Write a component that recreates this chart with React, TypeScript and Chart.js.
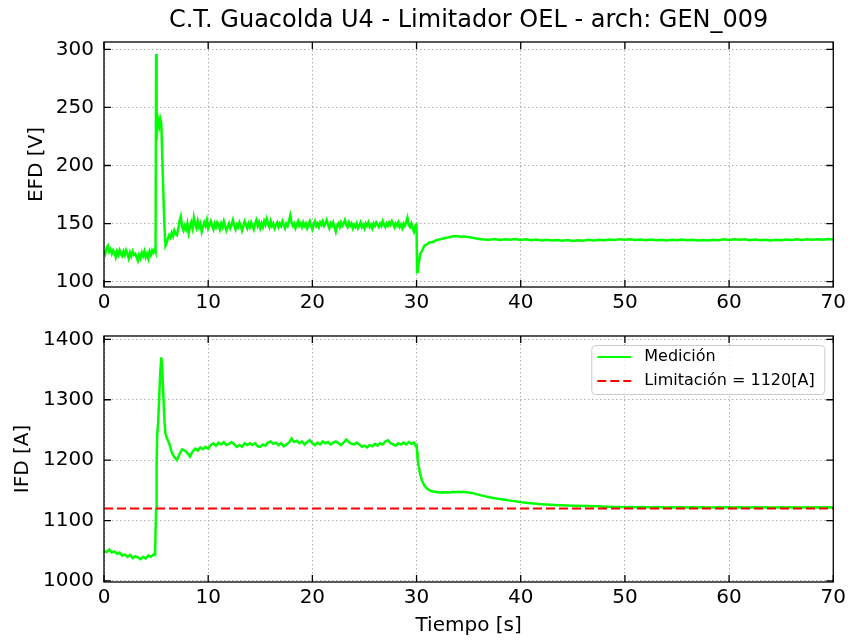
import React, { useEffect, useRef } from 'react';
import { Chart, registerables } from 'chart.js';
Chart.register(...registerables);

const TITLE = 'C.T. Guacolda U4 - Limitador OEL - arch: GEN_009';
const X_LABEL = 'Tiempo [s]';
const EFD_LABEL = 'EFD [V]';
const IFD_LABEL = 'IFD [A]';
const SERIES_NAME = 'Medición';
const LIMIT_NAME = 'Limitación = 1120[A]';

// ---- Top subplot: EFD [V] ----
const efdTime = [
  0, 0.125, 0.25, 0.375, 0.5, 0.625, 0.75, 0.875,
  1, 1.125, 1.25, 1.375, 1.5, 1.625, 1.75, 1.875,
  2, 2.125, 2.25, 2.375, 2.5, 2.625, 2.75, 2.875,
  3, 3.125, 3.25, 3.375, 3.5, 3.625, 3.75, 3.875,
  4, 4.125, 4.25, 4.375, 4.5, 4.625, 4.75, 4.875,
  4.95, 5, 5.05, 5.1, 5.2, 5.3, 5.4, 5.5, 5.6, 5.7, 5.8, 5.9,
  6, 6.125, 6.25, 6.375, 6.5, 6.625, 6.75, 6.875,
  7, 7.125, 7.25, 7.375, 7.5, 7.625, 7.75, 7.875,
  8, 8.125, 8.25, 8.375, 8.5, 8.625, 8.75, 8.875,
  9, 9.125, 9.25, 9.375, 9.5, 9.625, 9.75, 9.875,
  10, 10.125, 10.25, 10.375, 10.5, 10.625, 10.75, 10.875,
  11, 11.125, 11.25, 11.375, 11.5, 11.625, 11.75, 11.875,
  12, 12.125, 12.25, 12.375, 12.5, 12.625, 12.75, 12.875,
  13, 13.125, 13.25, 13.375, 13.5, 13.625, 13.75, 13.875,
  14, 14.125, 14.25, 14.375, 14.5, 14.625, 14.75, 14.875,
  15, 15.125, 15.25, 15.375, 15.5, 15.625, 15.75, 15.875,
  16, 16.125, 16.25, 16.375, 16.5, 16.625, 16.75, 16.875,
  17, 17.125, 17.25, 17.375, 17.5, 17.625, 17.75, 17.875,
  18, 18.125, 18.25, 18.375, 18.5, 18.625, 18.75, 18.875,
  19, 19.125, 19.25, 19.375, 19.5, 19.625, 19.75, 19.875,
  20, 20.125, 20.25, 20.375, 20.5, 20.625, 20.75, 20.875,
  21, 21.125, 21.25, 21.375, 21.5, 21.625, 21.75, 21.875,
  22, 22.125, 22.25, 22.375, 22.5, 22.625, 22.75, 22.875,
  23, 23.125, 23.25, 23.375, 23.5, 23.625, 23.75, 23.875,
  24, 24.125, 24.25, 24.375, 24.5, 24.625, 24.75, 24.875,
  25, 25.125, 25.25, 25.375, 25.5, 25.625, 25.75, 25.875,
  26, 26.125, 26.25, 26.375, 26.5, 26.625, 26.75, 26.875,
  27, 27.125, 27.25, 27.375, 27.5, 27.625, 27.75, 27.875,
  28, 28.125, 28.25, 28.375, 28.5, 28.625, 28.75, 28.875,
  29, 29.125, 29.25, 29.375, 29.5, 29.625, 29.75, 29.875,
  29.95, 30, 30.05, 30.1, 30.2, 30.35, 30.5, 30.75,
  31, 31.25, 31.5, 31.75, 32, 32.25, 32.5, 32.75, 33, 33.25, 33.5, 33.75, 34, 34.25, 34.5, 34.75, 35,
  35.5, 36, 36.5, 37, 37.5, 38, 38.5, 39, 39.5, 40,
  40.5, 41, 41.5, 42, 42.5, 43, 43.5, 44, 44.5, 45,
  45.5, 46, 46.5, 47, 47.5, 48, 48.5, 49, 49.5, 50,
  50.5, 51, 51.5, 52, 52.5, 53, 53.5, 54, 54.5, 55,
  55.5, 56, 56.5, 57, 57.5, 58, 58.5, 59, 59.5, 60,
  60.5, 61, 61.5, 62, 62.5, 63, 63.5, 64, 64.5, 65,
  65.5, 66, 66.5, 67, 67.5, 68, 68.5, 69, 69.5, 70,
];

const efd = [
  127, 124, 129, 131, 126, 128, 124, 127,
  125, 121, 126, 123, 127, 124, 122, 126,
  123, 127, 124, 120, 125, 122, 126, 123,
  124, 121, 118, 123, 120, 125, 122, 126,
  121, 124, 120, 126, 123, 127, 125, 128,
  126, 296, 222, 232, 239, 234, 240, 236, 205, 175, 148, 131,
  133, 137, 140, 138, 142, 139, 144, 141,
  140, 145, 152, 156, 147, 144, 148, 145,
  150, 142, 147, 151, 146, 155, 149, 146,
  152, 147, 150, 143, 147, 151, 148, 153,
  146, 149, 152, 148, 145, 150, 147, 151,
  149, 145, 150, 147, 152, 148, 144, 147,
  150, 146, 149, 153, 148, 145, 149, 147,
  151, 148, 144, 148, 152, 149, 146, 150,
  147, 151, 148, 145, 150, 153, 148, 151,
  146, 150, 147, 152, 149, 154, 150, 147,
  152, 148, 150, 146, 149, 151, 147, 150,
  148, 152, 149, 146, 150, 148, 152, 157,
  151, 148, 150, 146, 149, 152, 148, 150,
  147, 151, 148, 150, 146, 149, 152, 148,
  145, 149, 152, 148, 150, 147, 151, 149,
  152, 148, 150, 153, 149, 146, 150, 148,
  151, 147, 143, 148, 150, 147, 151, 148,
  150, 153, 149, 147, 151, 148, 150, 146,
  149, 147, 150, 146, 148, 151, 147, 149,
  146, 150, 148, 151, 147, 149, 146, 150,
  148, 151, 149, 147, 150, 148, 152, 149,
  147, 150, 148, 151, 149, 152, 150, 147,
  150, 148, 151, 147, 149, 146, 150, 148,
  151, 155, 149, 147, 150, 146, 143, 148,
  149, 147, 108, 120, 115, 124, 126, 131,
  132, 134, 134, 135, 136, 136.5, 137, 137.5, 138, 138.5, 139, 139, 139, 138.5, 139, 138.5, 138.5,
  137.5, 136.8, 136.2, 136, 136.8, 135.8, 136.4, 136, 136.7, 135.9,
  136.5, 135.6, 136.2, 135.4, 136, 135.5, 135.9, 135.2, 135.8, 135,
  135.7, 135.3, 136, 135.5, 136.1, 135.6, 136.3, 135.9, 136.6, 136.1,
  136.5, 135.8, 136.3, 135.7, 136.2, 135.6, 136, 135.5, 136.1, 135.7,
  136.2, 135.6, 136.1, 135.5, 135.9, 135.4, 136, 135.6, 136.4, 135.8,
  136.5, 136, 136.4, 135.7, 136.2, 135.6, 136.1, 135.5, 136, 135.7,
  136.3, 135.8, 136.4, 135.9, 136.5, 136, 136.6, 136.1, 136.7, 136.3,
];

// ---- Bottom subplot: IFD [A] ----
const ifdTime = [
  0, 0.25, 0.5, 0.75, 1, 1.25, 1.5, 1.75, 2, 2.25, 2.5, 2.75, 3, 3.25, 3.5, 3.75, 4, 4.25, 4.5, 4.75,
  4.9, 5, 5.05, 5.1, 5.2, 5.3, 5.4, 5.5, 5.6, 5.7, 5.8, 5.9,
  6, 6.25, 6.5, 6.75, 7, 7.25, 7.5, 7.75,
  8, 8.25, 8.5, 8.75, 9, 9.25, 9.5, 9.75,
  10, 10.25, 10.5, 10.75, 11, 11.25, 11.5, 11.75,
  12, 12.25, 12.5, 12.75, 13, 13.25, 13.5, 13.75,
  14, 14.25, 14.5, 14.75, 15, 15.25, 15.5, 15.75,
  16, 16.25, 16.5, 16.75, 17, 17.25, 17.5, 17.75,
  18, 18.25, 18.5, 18.75, 19, 19.25, 19.5, 19.75,
  20, 20.25, 20.5, 20.75, 21, 21.25, 21.5, 21.75,
  22, 22.25, 22.5, 22.75, 23, 23.25, 23.5, 23.75,
  24, 24.25, 24.5, 24.75, 25, 25.25, 25.5, 25.75,
  26, 26.25, 26.5, 26.75, 27, 27.25, 27.5, 27.75,
  28, 28.25, 28.5, 28.75, 29, 29.25, 29.5, 29.75,
  29.9, 30, 30.05, 30.1, 30.2, 30.35, 30.5, 30.75,
  31, 31.25, 31.5, 31.75, 32, 32.25, 32.5, 32.75, 33, 33.25, 33.5, 33.75, 34, 34.25, 34.5, 34.75, 35,
  35.5, 36, 36.5, 37, 37.5, 38, 38.5, 39, 39.5, 40,
  40.5, 41, 41.5, 42, 42.5, 43, 43.5, 44, 44.5, 45,
  45.5, 46, 46.5, 47, 47.5, 48, 48.5, 49, 49.5, 50,
  50.5, 51, 51.5, 52, 52.5, 53, 53.5, 54, 54.5, 55,
  55.5, 56, 56.5, 57, 57.5, 58, 58.5, 59, 59.5, 60,
  60.5, 61, 61.5, 62, 62.5, 63, 63.5, 64, 64.5, 65,
  65.5, 66, 66.5, 67, 67.5, 68, 68.5, 69, 69.5, 70,
];

const ifd = [
  1050, 1048, 1052, 1047, 1049, 1045, 1047, 1042, 1044, 1040, 1043, 1038, 1041, 1039, 1036, 1040, 1037, 1042, 1040, 1044,
  1043, 1120, 1190, 1240, 1262, 1305, 1345, 1370, 1348, 1305, 1265, 1244,
  1238, 1228, 1213, 1205, 1200, 1210, 1218, 1216,
  1212, 1206, 1214, 1219, 1216, 1221, 1218, 1222,
  1219, 1225, 1228, 1224, 1229, 1226, 1230, 1225,
  1227, 1230, 1226, 1222, 1225, 1222, 1228, 1225,
  1228, 1225, 1228, 1223, 1222, 1226, 1224, 1229,
  1231, 1227, 1229, 1225, 1228, 1223, 1226, 1229,
  1236, 1230, 1232, 1228, 1231, 1226, 1230, 1233,
  1228, 1225, 1229, 1226, 1231, 1228, 1230, 1226,
  1229, 1231, 1228, 1225, 1229, 1234, 1230, 1227,
  1226, 1229, 1226, 1222, 1224, 1221, 1225, 1223,
  1227, 1224, 1228, 1226, 1231, 1233, 1228, 1226,
  1224, 1228, 1226, 1229, 1226, 1230, 1227, 1229,
  1224, 1225, 1214, 1202, 1190, 1177, 1167, 1158,
  1153, 1150, 1148.5, 1147.5, 1147, 1146.5, 1147, 1146.5, 1147, 1146.5, 1147.5, 1147, 1147.5, 1147, 1147.5, 1147, 1146.5,
  1145, 1142.5, 1140.5, 1138.5, 1137, 1135.5, 1134.5, 1133, 1132, 1130.5,
  1129.5, 1128.5, 1128, 1127, 1126.5, 1126, 1125.5, 1125.5, 1125, 1124.5,
  1124.5, 1124, 1124, 1123.5, 1123.5, 1123, 1123, 1122.5, 1122.5, 1122,
  1122.5, 1122, 1122.5, 1122, 1121.5, 1122, 1122, 1121.5, 1122, 1121.5,
  1122, 1121.5, 1122, 1121.5, 1122, 1121.5, 1121.5, 1122, 1121.5, 1122,
  1121.5, 1122, 1121.5, 1121.5, 1122, 1121.5, 1122, 1121.5, 1121.5, 1122,
  1121.5, 1122, 1121.5, 1121.5, 1122, 1121.5, 1122, 1121.5, 1122, 1121.5,
];

const limitTime = [0, 70];
const limitValue = [1120, 1120];

const timeTicks = [0, 10, 20, 30, 40, 50, 60, 70];
const efdTicks = [100, 150, 200, 250, 300];
const ifdTicks = [1000, 1100, 1200, 1300, 1400];
const efdRange = [95.4, 306.3];
const ifdRange = [998.3, 1405.5];
const timeRange = [0, 70];

const FONT = "'DejaVu Sans', 'Noto Sans', sans-serif";
const GREEN = '#00ff00';
const RED = '#ff0000';
const GRID = '#b0b0b0';
const TEXT = '#000000';

Chart.defaults.font.family = FONT;

const framePlugin = {
  id: 'frameTicks',
  afterDatasetsDraw(chart: any) {
    const { ctx, chartArea: a, scales } = chart;
    const L = 7;
    ctx.save();
    ctx.strokeStyle = '#000';
    ctx.lineWidth = 1.3;
    ctx.beginPath();
    scales.x.ticks.forEach((t: any) => {
      const px = scales.x.getPixelForValue(t.value);
      ctx.moveTo(px, a.bottom);
      ctx.lineTo(px, a.bottom - L);
      ctx.moveTo(px, a.top);
      ctx.lineTo(px, a.top + L);
    });
    scales.y.ticks.forEach((t: any) => {
      const py = scales.y.getPixelForValue(t.value);
      ctx.moveTo(a.left, py);
      ctx.lineTo(a.left + L, py);
      ctx.moveTo(a.right, py);
      ctx.lineTo(a.right - L, py);
    });
    ctx.stroke();
    ctx.strokeRect(a.left, a.top, a.right - a.left, a.bottom - a.top);
    ctx.restore();
  },
};

const titlePlugin = {
  id: 'figTitle',
  afterDraw(chart: any) {
    const { ctx, chartArea: a } = chart;
    ctx.save();
    ctx.font = `24px ${FONT}`;
    ctx.fillStyle = TEXT;
    ctx.textAlign = 'center';
    ctx.textBaseline = 'alphabetic';
    ctx.fillText(TITLE, (a.left + a.right) / 2, 27);
    ctx.restore();
  },
};

const legendPlugin = {
  id: 'boxLegend',
  afterDraw(chart: any) {
    const { ctx, chartArea: a } = chart;
    const bw = 233;
    const bh = 49;
    const bx = a.right - bw - 9;
    const by = a.top + 9;
    ctx.save();
    ctx.beginPath();
    ctx.roundRect(bx + 0.5, by + 0.5, bw, bh, 4);
    ctx.fillStyle = 'rgba(255,255,255,0.8)';
    ctx.fill();
    ctx.strokeStyle = '#cccccc';
    ctx.lineWidth = 1;
    ctx.stroke();
    const items = [...chart.data.datasets].sort((p: any, q: any) => (p.legendIndex ?? 0) - (q.legendIndex ?? 0));
    items.forEach((ds: any, i: number) => {
      const y = by + 12 + i * 24;
      ctx.beginPath();
      ctx.setLineDash(ds.borderDash || []);
      ctx.strokeStyle = ds.borderColor;
      ctx.lineWidth = 2;
      ctx.moveTo(bx + 6, y);
      ctx.lineTo(bx + 40, y);
      ctx.stroke();
      ctx.setLineDash([]);
      ctx.font = `16px ${FONT}`;
      ctx.fillStyle = TEXT;
      ctx.textAlign = 'left';
      ctx.textBaseline = 'middle';
      ctx.fillText(ds.label, bx + 53, y);
    });
    ctx.restore();
  },
};

function makeScales(opts: {
  yTicks: number[];
  yRange: number[];
  yTitle: string;
  yTitlePad: number;
  xTitle?: string;
  xHeight: number;
}) {
  const tickFont = { size: 20, family: FONT };
  return {
    x: {
      type: 'linear',
      min: timeRange[0],
      max: timeRange[1],
      afterBuildTicks: (s: any) => {
        s.ticks = timeTicks.map((v) => ({ value: v }));
      },
      afterFit: (s: any) => {
        s.height = opts.xHeight;
      },
      grid: { color: GRID, lineWidth: 1, drawTicks: false },
      border: { display: false, dash: [1.5, 2.5] },
      ticks: {
        font: tickFont,
        color: TEXT,
        padding: 4,
        maxRotation: 0,
        autoSkip: false,
        callback: (v: any) => String(v),
      },
      title: opts.xTitle
        ? { display: true, text: opts.xTitle, font: tickFont, color: TEXT, padding: { top: 0, bottom: 2.5 } }
        : { display: false },
    },
    y: {
      type: 'linear',
      min: opts.yRange[0],
      max: opts.yRange[1],
      afterBuildTicks: (s: any) => {
        s.ticks = opts.yTicks.map((v) => ({ value: v }));
      },
      afterFit: (s: any) => {
        s.width = 104;
        s.paddingTop = 0;
        s.paddingBottom = 0;
      },
      grid: { color: GRID, lineWidth: 1, drawTicks: false },
      border: { display: false, dash: [1.5, 2.5] },
      ticks: {
        font: tickFont,
        color: TEXT,
        padding: 10,
        autoSkip: false,
        callback: (v: any) => String(v),
      },
      title: {
        display: true,
        text: opts.yTitle,
        font: tickFont,
        color: TEXT,
        padding: { top: opts.yTitlePad, bottom: 0 },
      },
    },
  };
}

function pts(xs: number[], ys: number[]) {
  return xs.map((x, i) => ({ x, y: ys[i] }));
}

export default function App() {
  const topRef = useRef<HTMLCanvasElement>(null);
  const botRef = useRef<HTMLCanvasElement>(null);

  useEffect(() => {
    const common = {
      responsive: false,
      animation: false,
      events: [],
      plugins: { legend: { display: false }, tooltip: { enabled: false }, title: { display: false } },
    };
    const top = new Chart(topRef.current as HTMLCanvasElement, {
      type: 'line',
      data: {
        datasets: [
          {
            label: SERIES_NAME,
            data: pts(efdTime, efd),
            borderColor: GREEN,
            backgroundColor: GREEN,
            borderWidth: 2.5,
            pointRadius: 0,
            tension: 0,
          },
        ],
      },
      options: {
        ...common,
        layout: { padding: { left: 0, right: 15, top: 42, bottom: 0 } },
        scales: makeScales({ yTicks: efdTicks, yRange: efdRange, yTitle: EFD_LABEL, yTitlePad: 25, xHeight: 33 }),
      } as any,
      plugins: [framePlugin, titlePlugin],
    } as any);

    const bot = new Chart(botRef.current as HTMLCanvasElement, {
      type: 'line',
      data: {
        datasets: [
          {
            label: SERIES_NAME,
            legendIndex: 0,
            data: pts(ifdTime, ifd),
            borderColor: GREEN,
            backgroundColor: GREEN,
            borderWidth: 2.5,
            pointRadius: 0,
            tension: 0,
            order: 1,
          },
          {
            label: LIMIT_NAME,
            legendIndex: 1,
            data: pts(limitTime, limitValue),
            borderColor: RED,
            backgroundColor: RED,
            borderWidth: 2,
            borderDash: [9, 4],
            pointRadius: 0,
            tension: 0,
            order: 0,
          },
        ],
      },
      options: {
        ...common,
        layout: { padding: { left: 0, right: 15, top: 16, bottom: 0 } },
        scales: makeScales({
          yTicks: ifdTicks,
          yRange: ifdRange,
          yTitle: IFD_LABEL,
          yTitlePad: 10.5,
          xTitle: X_LABEL,
          xHeight: 58,
        }),
      } as any,
      plugins: [framePlugin, legendPlugin],
    } as any);

    return () => {
      top.destroy();
      bot.destroy();
    };
  }, []);

  return (
    <div style={{ position: 'fixed', left: 0, top: 0, width: 850, height: 640, background: '#ffffff' }}>
      <canvas ref={topRef} width={850} height={320} style={{ position: 'absolute', left: 0, top: 0 }} />
      <canvas ref={botRef} width={850} height={320} style={{ position: 'absolute', left: 0, top: 320 }} />
    </div>
  );
}
